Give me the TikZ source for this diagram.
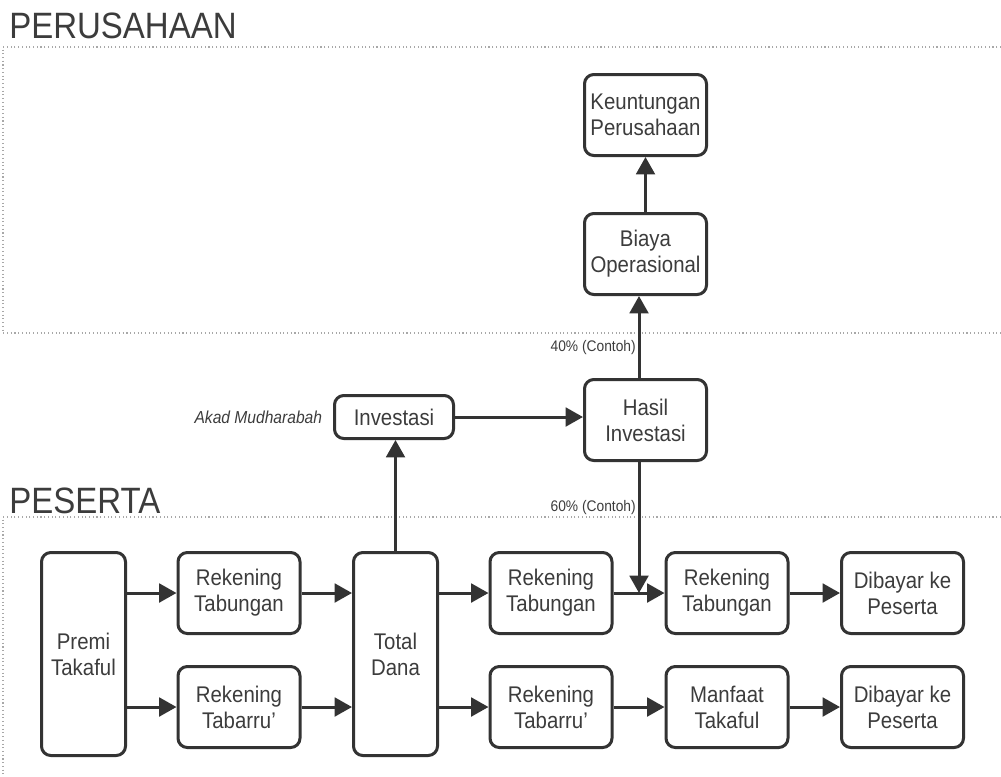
\documentclass[tikz,border=0pt]{standalone}
\usepackage{fontspec}
\setmainfont{Liberation Sans}[FakeStretch=0.9]
\usepackage{tikz}
\usetikzlibrary{arrows.meta, positioning, calc}
\definecolor{garis}{HTML}{333333}
\definecolor{teks}{HTML}{3C3C3C}
\definecolor{batas}{HTML}{A8A8A8}

\tikzset{
  kotak/.style={draw=garis, line width=2.25pt, rounded corners=7pt, align=center,
    text=teks, inner sep=0pt, minimum width=91.5pt, minimum height=60.75pt,
    font=\fontsize{17}{19.5}\selectfont},
  kotaktinggi/.style={kotak, minimum width=63pt, minimum height=152.25pt},
  kotakpendek/.style={kotak, minimum width=89.25pt, minimum height=32.25pt},
  judul/.style={text=teks, inner sep=0pt, anchor=base west, font=\fontsize{27.5}{30}\selectfont},
  catatan/.style={text=teks, inner sep=0pt, anchor=east, font=\fontsize{11.5}{13}\selectfont},
  panah/.style={draw=garis, line width=2.25pt, -{Triangle[length=13pt, width=14pt]}},
  wilayah/.style={draw=batas, line width=0.8pt, dotted}
}

\begin{document}
\begin{tikzpicture}[x=0.75pt, y=-0.75pt]
        \useasboundingbox (0,0) rectangle (1001,776);

        % Regions
        \draw[wilayah] (1001,47) -- (3,47) -- (3,333) -- (1001,333);
        \draw[wilayah] (1001,517) -- (3,517) -- (3,776);
        \node[judul] (perusahaan) at (9,38) {PERUSAHAAN};
        \node[judul] (peserta) at (9,513) {PESERTA};

        % Nodes (perusahaan)
        \node[kotak] (keuntungan) at (645.5,115) {Keuntungan\\Perusahaan};
        \node[kotak] (biaya) at (645.5,254) {Biaya\\Operasional};
        \node[kotak] (hasil) at (645.5,420) {Hasil\\Investasi};
        \node[kotakpendek] (investasi) at (394,417) {Investasi};
        \node[catatan, font=\fontsize{13}{15}\itshape, left=8pt of investasi] (akad) {Akad Mudharabah};

        % Nodes (peserta)
        \node[kotaktinggi] (premi) at (83.5,654) {Premi\\Takaful};
        \node[kotak] (tabungan1) at (239,593) {Rekening\\Tabungan};
        \node[kotak] (tabarru1) at (239,707) {Rekening\\Tabarru'};
        \node[kotaktinggi] (total) at (395.5,654) {Total\\Dana};
        \node[kotak] (tabungan2) at (551,593) {Rekening\\Tabungan};
        \node[kotak] (tabarru2) at (551,707) {Rekening\\Tabarru'};
        \node[kotak] (tabungan3) at (727,593) {Rekening\\Tabungan};
        \node[kotak] (manfaat) at (727,707) {Manfaat\\Takaful};
        \node[kotak] (bayar1) at (902.5,593) {Dibayar ke\\Peserta};
        \node[kotak] (bayar2) at (902.5,707) {Dibayar ke\\Peserta};

        \coordinate (gabung) at ($(tabungan2.east)!0.5!(tabungan3.west)$);

        \node[catatan] (persen40) at (636,348) {40\% (Contoh)};
        \node[catatan] (persen60) at (636,508) {60\% (Contoh)};

        % Arrows
        \draw[panah] (premi.east |- tabungan1) -- (tabungan1);
        \draw[panah] (premi.east |- tabarru1) -- (tabarru1);
        \draw[panah] (tabungan1) -- (total.west |- tabungan1);
        \draw[panah] (tabarru1) -- (total.west |- tabarru1);
        \draw[panah] (total.east |- tabungan2) -- (tabungan2);
        \draw[panah] (total.east |- tabarru2) -- (tabarru2);
        \draw[panah] (tabungan2) -- (tabungan3);
        \draw[panah] (tabarru2) -- (manfaat);
        \draw[panah] (tabungan3) -- (bayar1);
        \draw[panah] (manfaat) -- (bayar2);

        \draw[panah] (total.north) -- (total.north |- investasi.south);
        \draw[panah] (investasi) -- (hasil.west |- investasi);
        \draw[panah] (hasil.south -| gabung) -- (gabung);
        \draw[panah] (hasil.north -| gabung) -- (biaya.south -| gabung);
        \draw[panah] (biaya) -- (keuntungan);
    \end{tikzpicture}
\end{document}
